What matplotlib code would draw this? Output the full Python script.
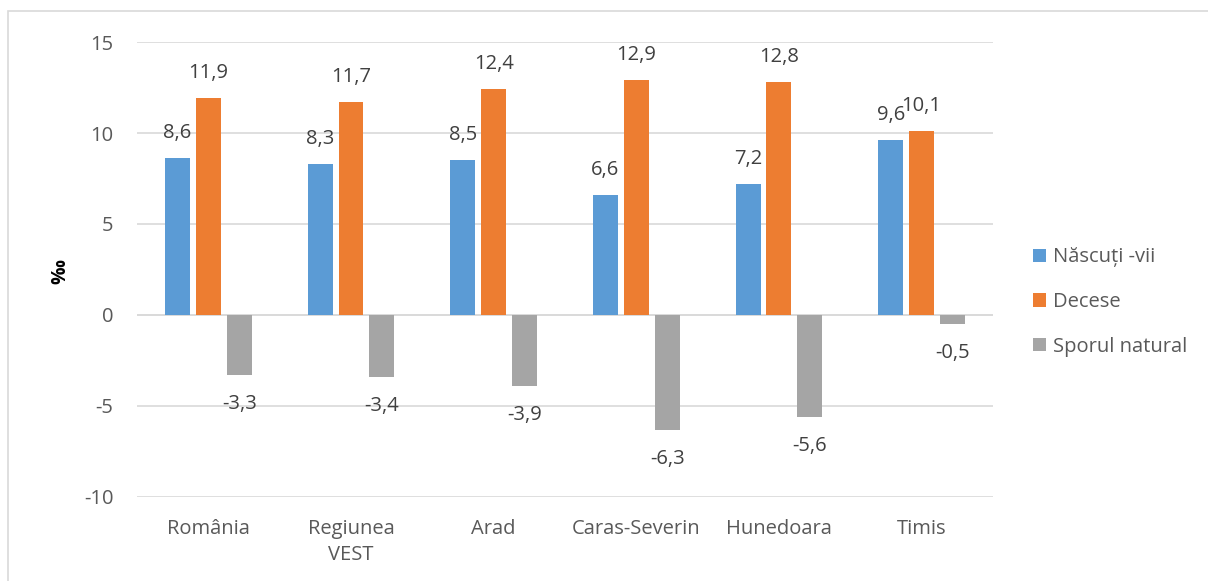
import matplotlib
matplotlib.use("Agg")
import matplotlib.pyplot as plt
from matplotlib.patches import Rectangle, Patch
import numpy as np

categories = ["România", "Regiunea\nVEST", "Arad", "Caras-Severin", "Hunedoara", "Timis"]
nascuti = [8.6, 8.3, 8.5, 6.6, 7.2, 9.6]
decese = [11.9, 11.7, 12.4, 12.9, 12.8, 10.1]
spor = [-3.3, -3.4, -3.9, -6.3, -5.6, -0.5]
series_names = ["Născuți -vii", "Decese", "Sporul natural"]
colors = ["#5B9BD5", "#ED7D31", "#A5A5A5"]

def fmt(v):
    return f"{v:.1f}".replace(".", ",")

plt.rcParams['font.family'] = ['Open Sans', 'DejaVu Sans']
FS = 14.5
fig = plt.figure(figsize=(12.08, 5.81), dpi=100)
ax = fig.add_axes([0.1134, 0.1446, 0.7086, 0.7831])

x = np.arange(len(categories))
w = 0.175
step = 0.217
tc = "#595959"
lc = "#404040"
all_bars = []
for k, (vals, c) in enumerate(zip([nascuti, decese, spor], colors)):
    bars = ax.bar(x + (k - 1) * step, vals, w, color=c, zorder=3)
    all_bars.append((bars, vals))

for bars, vals in all_bars:
    for b, v in zip(bars, vals):
        cx = b.get_x() + b.get_width() / 2
        off = 18 if v >= 0 else -21
        ax.annotate(fmt(v), (cx, v), xytext=(0, off), textcoords="offset points",
                    ha="center", va="center", fontsize=FS, color=lc, annotation_clip=False)

ax.set_xlim(-0.5, len(categories) - 0.5)
ax.set_ylim(-10, 15)
ax.set_yticks([-10, -5, 0, 5, 10, 15])
ax.set_yticklabels(["-10", "-5", "0", "5", "10", "15"])
ax.set_xticks(x)
ax.set_xticklabels(categories, linespacing=1.45)
ax.tick_params(axis="both", length=0, labelsize=FS, colors=tc)
ax.tick_params(axis="y", pad=17)
ax.tick_params(axis="x", pad=15.5)
ax.grid(axis="y", color="#D9D9D9", linewidth=1.2, zorder=0)
for s in ax.spines.values():
    s.set_visible(False)
ax.axhline(0, color="#D9D9D9", linewidth=1.2, zorder=1)

fig.text(60 / 1208, 1 - 272 / 581, "‰", rotation=90, fontsize=14, fontweight="bold",
         ha="center", va="center", color="black")

handles = [Patch(facecolor=c) for c in colors]
leg = fig.legend(handles, series_names, loc="center left", bbox_to_anchor=(1033 / 1208, 1 - 302 / 581),
                 frameon=False, fontsize=FS, handlelength=0.65, handleheight=0.65, handletextpad=0.35,
                 labelspacing=1.22, borderaxespad=0, borderpad=0)
for t in leg.get_texts():
    t.set_color(tc)

fig.patches.append(Rectangle((8 / 1208, -0.01), 1.02, 1 - 11 / 581 + 0.01, transform=fig.transFigure,
                             fill=False, edgecolor="#D9D9D9", linewidth=1.2))

fig.savefig("out.png", dpi=100)
